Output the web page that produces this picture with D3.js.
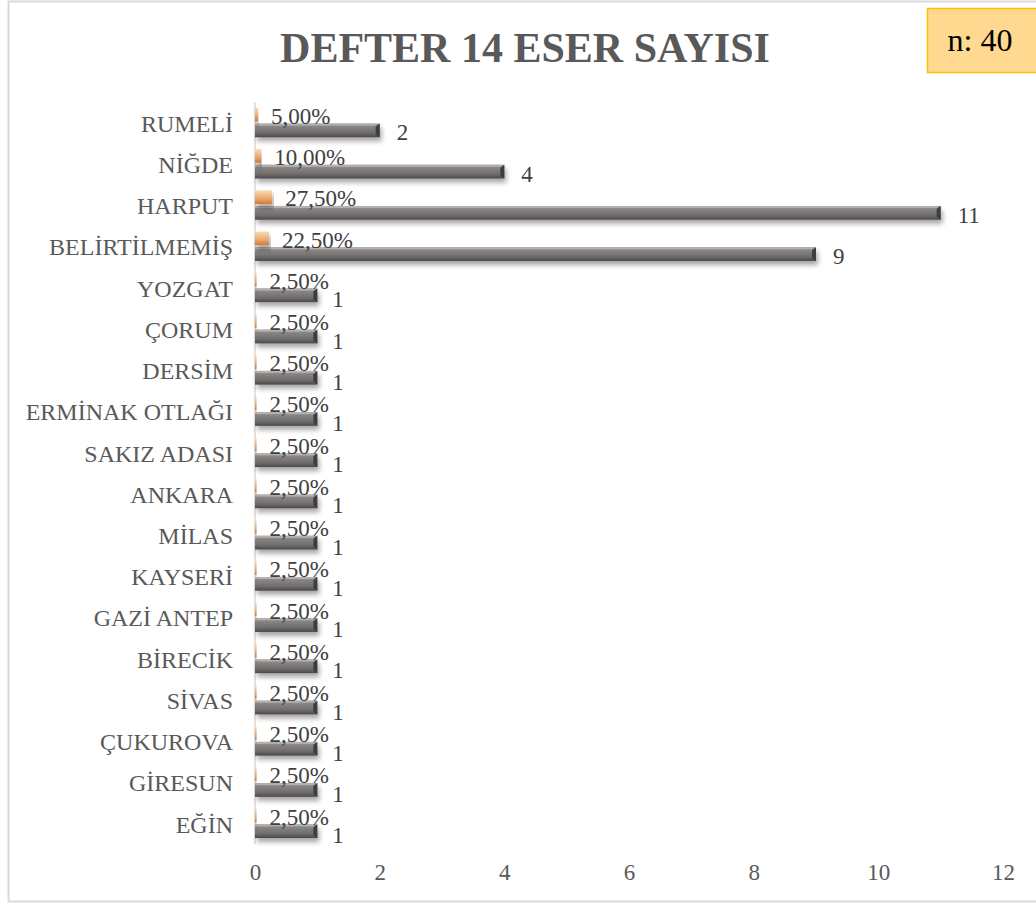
<!DOCTYPE html>
<html>
<head>
<meta charset="utf-8">
<script src="https://cdn.jsdelivr.net/npm/d3@7"></script>
<style>
  body { margin: 0; background: #fff; }
  text { font-family: "Liberation Serif", "Times New Roman", serif; }
</style>
</head>
<body>
<svg id="chart" width="1036" height="904"></svg>
<script>
// data
var categories = ["RUMELİ","NİĞDE","HARPUT","BELİRTİLMEMİŞ","YOZGAT","ÇORUM","DERSİM","ERMİNAK OTLAĞI","SAKIZ ADASI","ANKARA","MİLAS","KAYSERİ","GAZİ ANTEP","BİRECİK","SİVAS","ÇUKUROVA","GİRESUN","EĞİN"]
var counts = [2,4,11,9,1,1,1,1,1,1,1,1,1,1,1,1,1,1]
var percents = [0.05,0.10,0.275,0.225,0.025,0.025,0.025,0.025,0.025,0.025,0.025,0.025,0.025,0.025,0.025,0.025,0.025,0.025]
var xTicks = [0,2,4,6,8,10,12]
var title = "DEFTER 14 ESER SAYISI"
var nLabel = "n: 40"

var rows = categories.map(function(c, i) {
    return {cat: c, count: counts[i], pct: percents[i]}
})

var svg = d3.select("#chart")
var margins = {left: 255, right: 33, top: 102, bottom: 60}
var graph = {width: 1036 - margins.left - margins.right, height: 904 - margins.top - margins.bottom}

var defs = svg.append("defs")
var gg = defs.append("linearGradient").attr("id", "grayBar").attr("x1", 0).attr("y1", 0).attr("x2", 0).attr("y2", 1)
gg.append("stop").attr("offset", "0%").attr("stop-color", "#9d9999")
gg.append("stop").attr("offset", "25%").attr("stop-color", "#878383")
gg.append("stop").attr("offset", "70%").attr("stop-color", "#6f6b6b")
gg.append("stop").attr("offset", "100%").attr("stop-color", "#4a4747")
var og = defs.append("linearGradient").attr("id", "orangeBar").attr("x1", 0).attr("y1", 0).attr("x2", 0).attr("y2", 1)
og.append("stop").attr("offset", "0%").attr("stop-color", "#fbd9b2")
og.append("stop").attr("offset", "60%").attr("stop-color", "#eaa86c")
og.append("stop").attr("offset", "100%").attr("stop-color", "#c97a3d")
var shadow = defs.append("filter").attr("id", "shadow").attr("x", "-5%").attr("y", "-50%").attr("width", "115%").attr("height", "250%")
shadow.append("feDropShadow").attr("dx", 2).attr("dy", 4).attr("stdDeviation", 2.5)
    .attr("flood-color", "#000").attr("flood-opacity", 0.35)

// outer frame
svg.append("rect")
    .attr("x", 8.5).attr("y", 1.5).attr("width", 1040).attr("height", 900)
    .attr("fill", "#fff").attr("stroke", "#d9d9d9").attr("stroke-width", 2)

var xScale = d3.scaleLinear().domain([0, 12]).range([0, graph.width])
var yScale = d3.scaleBand().domain(categories).range([0, graph.height]).paddingInner(0).paddingOuter(0)
var inner = d3.scaleBand().domain(["pct", "count"]).range([0, yScale.bandwidth()]).paddingInner(0.12).paddingOuter(0.38)

var target = svg.append("g").attr("transform", "translate(" + margins.left + "," + margins.top + ")")

// vertical axis line
target.append("line")
    .attr("x1", 0).attr("x2", 0).attr("y1", 0).attr("y2", graph.height)
    .attr("stroke", "#d9d9d9").attr("stroke-width", 1.5)

// category labels
var yAxis = d3.axisLeft(yScale).tickSize(0).tickPadding(22)
var ya = target.append("g").call(yAxis)
ya.select(".domain").remove()
ya.selectAll("text").attr("font-size", 24).attr("fill", "#595959")
    .attr("font-family", "Liberation Serif, Times New Roman, serif")
    .attr("dy", "0.38em")

// x axis tick labels
var xAxis = d3.axisBottom(xScale).tickValues(xTicks).tickSize(0).tickPadding(20)
var xa = target.append("g").attr("transform", "translate(0," + graph.height + ")").call(xAxis)
xa.select(".domain").remove()
xa.selectAll("text").attr("font-size", 23).attr("fill", "#595959")
    .attr("font-family", "Liberation Serif, Times New Roman, serif")

var groups = target.selectAll(".grp")
    .data(rows)
    .enter()
    .append("g")
    .attr("class", "grp")
    .attr("transform", function(d) { return "translate(0," + yScale(d.cat) + ")" })

// count bars
groups.append("rect")
    .attr("x", 0)
    .attr("y", inner("count"))
    .attr("width", function(d) { return xScale(d.count) })
    .attr("height", inner.bandwidth())
    .attr("fill", "url(#grayBar)")
    .attr("filter", "url(#shadow)")
groups.append("path")
    .attr("d", function(d) {
        var x = xScale(d.count), y = inner("count"), h = inner.bandwidth()
        return "M" + (x - 4) + "," + (y + 3) + "L" + x + "," + y + "L" + x + "," + (y + h) + "L" + (x - 4) + "," + (y + h - 3) + "Z"
    })
    .attr("fill", "#3f3c3c")
groups.append("rect")
    .attr("x", 0)
    .attr("y", inner("count"))
    .attr("width", function(d) { return Math.max(0, xScale(d.count) - 3) })
    .attr("height", 2)
    .attr("fill", "#b3b0b0")

// percent bars
groups.append("rect")
    .attr("x", 0)
    .attr("y", inner("pct"))
    .attr("width", function(d) { return xScale(d.pct) })
    .attr("height", inner.bandwidth())
    .attr("fill", "url(#orangeBar)")
    .attr("filter", "url(#shadow)")

// labels
groups.append("text")
    .attr("x", function(d) { return xScale(d.pct) + 13 })
    .attr("y", inner("pct") + inner.bandwidth() / 2 + 1)
    .attr("dy", "0.35em")
    .attr("font-size", 23)
    .attr("fill", "#404040")
    .text(function(d) { return d3.format(".2f")(d.pct * 100).replace(".", ",") + "%" })

groups.append("text")
    .attr("x", function(d) { return xScale(d.count) + (d.count == 1 ? 15 : 17) })
    .attr("y", function(d) { return inner("count") + inner.bandwidth() / 2 + (d.count == 1 ? 4 : 2) })
    .attr("dy", "0.35em")
    .attr("font-size", 23)
    .attr("fill", "#404040")
    .text(function(d) { return d.count })

// title
svg.append("text")
    .attr("x", 525).attr("y", 62)
    .attr("text-anchor", "middle")
    .attr("font-size", 42).attr("font-weight", "bold")
    .attr("fill", "#595959")
    .text(title)

// n box
svg.append("rect")
    .attr("x", 927.5).attr("y", 8.5).attr("width", 120).attr("height", 64)
    .attr("fill", "#ffd98f").attr("stroke", "#ffc000").attr("stroke-width", 1.5)
svg.append("text")
    .attr("x", 980).attr("y", 51)
    .attr("text-anchor", "middle")
    .attr("font-size", 32).attr("fill", "#000")
    .text(nLabel)
</script>
</body>
</html>
